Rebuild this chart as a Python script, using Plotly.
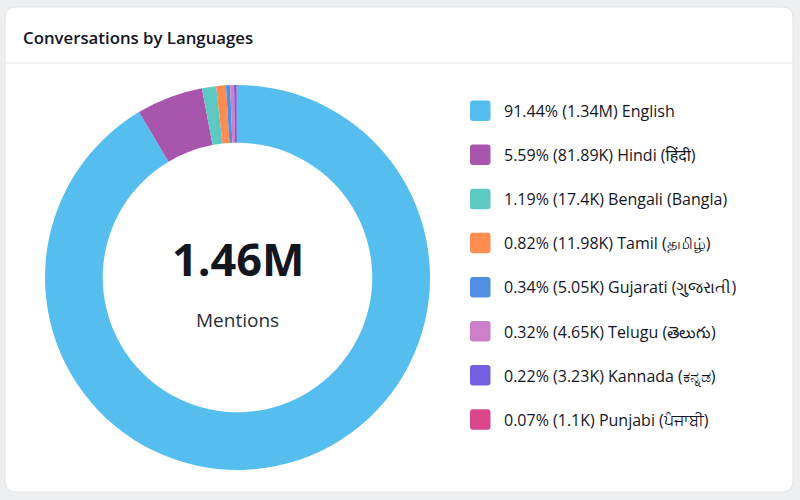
import plotly.graph_objects as go

W, H = 800, 500

languages = ["English", "Hindi (हिंदी)", "Bengali (Bangla)", "Tamil (தமிழ்)",
             "Gujarati (ગુજરાતી)", "Telugu (తెలుగు)", "Kannada (ಕನ್ನಡ)", "Punjabi (ਪੰਜਾਬੀ)"]
percents = [91.44, 5.59, 1.19, 0.82, 0.34, 0.32, 0.22, 0.07]
count_labels = ["1.34M", "81.89K", "17.4K", "11.98K", "5.05K", "4.65K", "3.23K", "1.1K"]
colors = ["#56BEEF", "#A855AE", "#5EC9C2", "#FD8D50", "#4F8EE0", "#CB80C8", "#745FE0", "#D9478A"]
total_label = "1.46M"
center_caption = "Mentions"
title = "Conversations by Languages"

FONT = "Open Sans, Noto Sans, DejaVu Sans, sans-serif"
TEXT = "#14161f"


def px(x):
    return x / W


def py(y):
    return 1 - y / H


def rounded_rect(x0, y0, x1, y1, r):
    # pixel coords -> paper path
    pts = [
        f"M {px(x0 + r)} {py(y0)}",
        f"L {px(x1 - r)} {py(y0)}",
        f"Q {px(x1)} {py(y0)} {px(x1)} {py(y0 + r)}",
        f"L {px(x1)} {py(y1 - r)}",
        f"Q {px(x1)} {py(y1)} {px(x1 - r)} {py(y1)}",
        f"L {px(x0 + r)} {py(y1)}",
        f"Q {px(x0)} {py(y1)} {px(x0)} {py(y1 - r)}",
        f"L {px(x0)} {py(y0 + r)}",
        f"Q {px(x0)} {py(y0)} {px(x0 + r)} {py(y0)}",
        "Z",
    ]
    return " ".join(pts)


fig = go.Figure()

# donut: center (237.5, 277.5), radius 192.5
cx, cy, R = 237.5, 277.5, 192.5
fig.add_trace(go.Pie(
    labels=languages,
    values=percents,
    marker=dict(colors=colors, line=dict(width=0)),
    hole=0.70,
    sort=False,
    direction="clockwise",
    rotation=0,
    textinfo="none",
    hoverinfo="label+percent",
    showlegend=False,
    domain=dict(x=[px(cx - R), px(cx + R)], y=[py(cy + R), py(cy - R)]),
))

shapes = []
# card
shapes.append(dict(type="path", xref="paper", yref="paper",
                   path=rounded_rect(5, 7, 793, 492, 11),
                   fillcolor="white", line=dict(color="#e2e4e8", width=1), layer="below"))
# divider
shapes.append(dict(type="line", xref="paper", yref="paper",
                   x0=px(5.5), x1=px(792.5), y0=py(63), y1=py(63),
                   line=dict(color="#e6e8eb", width=1), layer="below"))

annotations = []
annotations.append(dict(text=title, xref="paper", yref="paper", x=px(20.5), y=py(38),
                        xanchor="left", yanchor="middle", showarrow=False,
                        font=dict(family=FONT, size=16.8, color=TEXT, weight=600)))
annotations.append(dict(text=f"<b>{total_label}</b>", xref="paper", yref="paper",
                        x=px(cx), y=py(258), xanchor="center", yanchor="middle", showarrow=False,
                        font=dict(family=FONT, size=45, color=TEXT)))
annotations.append(dict(text=center_caption, xref="paper", yref="paper",
                        x=px(cx), y=py(320), xanchor="center", yanchor="middle", showarrow=False,
                        font=dict(family=FONT, size=19, color="#2a2d36")))

# custom legend
y_first, step = 110.5, 44.1
for i, (lang, pct, cnt, col) in enumerate(zip(languages, percents, count_labels, colors)):
    yc = y_first + i * step
    shapes.append(dict(type="path", xref="paper", yref="paper",
                       path=rounded_rect(470, yc - 10, 490.5, yc + 10.5, 3),
                       fillcolor=col, line=dict(width=0), layer="above"))
    annotations.append(dict(text=f"{pct:.2f}% ({cnt}) {lang}", xref="paper", yref="paper",
                            x=px(501.5), y=py(yc + 0.5), xanchor="left", yanchor="middle",
                            showarrow=False,
                            font=dict(family=FONT, size=16, color=TEXT)))

fig.update_layout(
    width=W, height=H,
    margin=dict(l=0, r=0, t=0, b=0),
    paper_bgcolor="#eeeff1",
    plot_bgcolor="#eeeff1",
    shapes=shapes,
    annotations=annotations,
    showlegend=False,
)

fig.write_html("out.html", config={"displayModeBar": False})
